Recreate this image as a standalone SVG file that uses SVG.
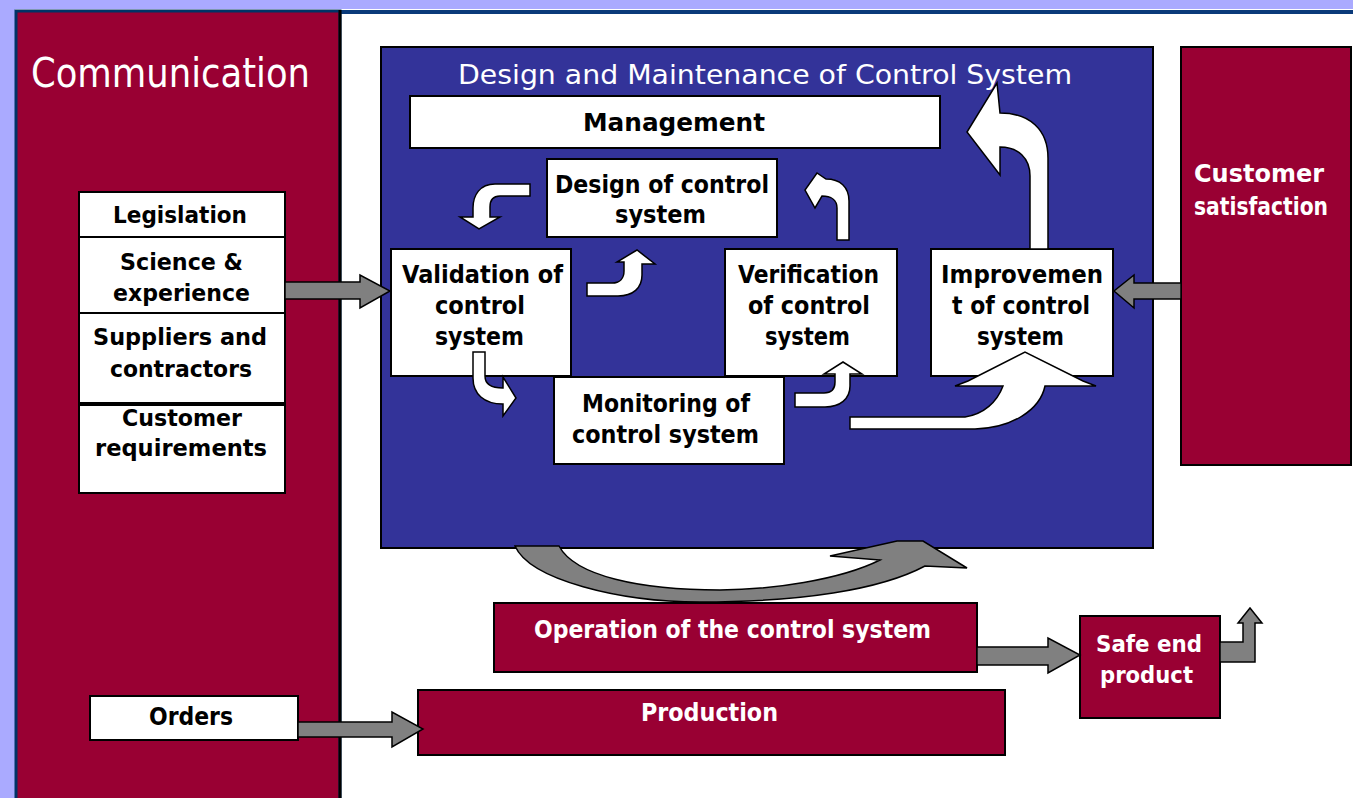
<svg xmlns="http://www.w3.org/2000/svg" width="1353" height="798" viewBox="0 0 1353 798">
<style>
.crim{fill:#990033;stroke:#000;stroke-width:2}
.box{fill:#fff;stroke:#000;stroke-width:2}
.wa{fill:#fff;stroke:#000;stroke-width:1.5;stroke-linejoin:miter}
.ga{fill:#808080;stroke:#000;stroke-width:1.5}
.t{font-family:"DejaVu Sans","Liberation Sans",sans-serif;font-weight:bold;font-size:24px;fill:#000}
.w{fill:#fff}
.n{font-weight:normal}
.s22{font-size:23px}
</style>
<rect x="0" y="0" width="1353" height="798" fill="#fff"/>
<rect x="0" y="0" width="15" height="798" fill="#aaaaff"/>
<rect x="0" y="0" width="1353" height="9" fill="#aaaaff"/>
<rect x="340" y="10" width="1013" height="4" fill="#0a3a7a"/>

<g id="communication">
<rect x="16" y="11" width="324" height="790" fill="#990033" stroke="#003366" stroke-width="3"/>
<line x1="340" y1="10" x2="340" y2="798" stroke="#000" stroke-width="3"/>
<text class="t w n" x="31" y="87" style="font-size:40px" textLength="279" lengthAdjust="spacingAndGlyphs">Communication</text>
</g>

<g id="design-maintenance">
<rect x="381" y="47" width="772" height="501" fill="#333399" stroke="#000" stroke-width="2"/>
<text class="t w n" x="458" y="84" style="font-size:27px" textLength="614" lengthAdjust="spacingAndGlyphs">Design and Maintenance of Control System</text>
</g>

<g id="customer-satisfaction">
<rect x="1181" y="47" width="170" height="418" class="crim"/>
<text class="t w" x="1194" y="182" style="font-size:24px" textLength="130" lengthAdjust="spacingAndGlyphs">Customer</text>
<text class="t w" x="1194" y="215" style="font-size:24px" textLength="134" lengthAdjust="spacingAndGlyphs">satisfaction</text>
</g>

<g id="management">
<rect x="410" y="96" width="530" height="52" class="box"/>
<text class="t" x="583" y="131" textLength="182" lengthAdjust="spacingAndGlyphs">Management</text>
</g>

<g id="design">
<rect x="547" y="159" width="230" height="78" class="box"/>
<text class="t" x="555" y="193" textLength="214" lengthAdjust="spacingAndGlyphs">Design of control</text>
<text class="t" x="615" y="223" textLength="91" lengthAdjust="spacingAndGlyphs">system</text>
</g>

<g id="validation">
<rect x="391" y="249" width="180" height="127" class="box"/>
<text class="t" x="402" y="283" textLength="161" lengthAdjust="spacingAndGlyphs">Validation of</text>
<text class="t" x="435" y="314" textLength="90" lengthAdjust="spacingAndGlyphs">control</text>
<text class="t" x="435" y="345" textLength="89" lengthAdjust="spacingAndGlyphs">system</text>
</g>

<g id="verification">
<rect x="725" y="249" width="172" height="127" class="box"/>
<text class="t" x="738" y="283" textLength="141" lengthAdjust="spacingAndGlyphs">Verification</text>
<text class="t" x="748" y="314" textLength="122" lengthAdjust="spacingAndGlyphs">of control</text>
<text class="t" x="765" y="345" textLength="85" lengthAdjust="spacingAndGlyphs">system</text>
</g>

<g id="improvement">
<rect x="931" y="249" width="182" height="127" class="box"/>
<text class="t" x="941" y="283" textLength="162" lengthAdjust="spacingAndGlyphs">Improvemen</text>
<text class="t" x="952" y="314" textLength="138" lengthAdjust="spacingAndGlyphs">t of control</text>
<text class="t" x="977" y="345" textLength="87" lengthAdjust="spacingAndGlyphs">system</text>
</g>

<g id="monitoring">
<rect x="554" y="377" width="230" height="87" class="box"/>
<text class="t" x="582" y="412" textLength="168" lengthAdjust="spacingAndGlyphs">Monitoring of</text>
<text class="t" x="572" y="443" textLength="187" lengthAdjust="spacingAndGlyphs">control system</text>
</g>

<g id="inputs">
<rect x="79" y="192" width="206" height="301" class="box"/>
<line x1="79" y1="237" x2="285" y2="237" stroke="#000" stroke-width="2"/>
<line x1="79" y1="313" x2="285" y2="313" stroke="#000" stroke-width="2"/>
<line x1="79" y1="404" x2="285" y2="404" stroke="#000" stroke-width="4"/>
<text class="t s22" x="113" y="223" textLength="134" lengthAdjust="spacingAndGlyphs">Legislation</text>
<text class="t s22" x="120" y="270" textLength="123" lengthAdjust="spacingAndGlyphs">Science &amp;</text>
<text class="t s22" x="113" y="301" textLength="137" lengthAdjust="spacingAndGlyphs">experience</text>
<text class="t s22" x="93" y="345" textLength="174" lengthAdjust="spacingAndGlyphs">Suppliers and</text>
<text class="t s22" x="110" y="377" textLength="142" lengthAdjust="spacingAndGlyphs">contractors</text>
<text class="t s22" x="122" y="426" textLength="120" lengthAdjust="spacingAndGlyphs">Customer</text>
<text class="t s22" x="95" y="456" textLength="172" lengthAdjust="spacingAndGlyphs">requirements</text>
</g>

<g id="orders">
<rect x="90" y="696" width="208" height="44" class="box"/>
<text class="t" x="149" y="725" textLength="84" lengthAdjust="spacingAndGlyphs">Orders</text>
</g>

<g id="operation">
<rect x="494" y="603" width="483" height="69" class="crim"/>
<text class="t w" x="534" y="638" textLength="397" lengthAdjust="spacingAndGlyphs">Operation of the control system</text>
</g>

<g id="production">
<rect x="418" y="690" width="587" height="65" class="crim"/>
<text class="t w" x="641" y="721" textLength="137" lengthAdjust="spacingAndGlyphs">Production</text>
</g>

<g id="safe-end-product">
<rect x="1080" y="616" width="140" height="102" class="crim"/>
<text class="t w" x="1096" y="652" style="font-size:23px" textLength="106" lengthAdjust="spacingAndGlyphs">Safe end</text>
<text class="t w" x="1100" y="683" style="font-size:23px" textLength="93" lengthAdjust="spacingAndGlyphs">product</text>
</g>

<g id="connectors">
<path class="ga" d="M285 282 L360 282 L360 275 L390 291 L360 308 L360 299 L285 299 Z"/>
<path class="ga" d="M1181 283 L1134 283 L1134 275 L1114 291 L1134 308 L1134 299 L1181 299 Z"/>
<path class="ga" d="M298 722 L392 722 L392 712 L423 729 L392 747 L392 737 L298 737 Z"/>
<path class="ga" d="M977 647 L1048 647 L1048 638 L1080 655 L1048 673 L1048 665 L977 665 Z"/>
<path class="ga" d="M1220 642 L1243 642 L1243 623 L1238 623 L1250 608 L1262 623 L1255 623 L1255 662 L1220 662 Z"/>
<path class="ga" d="M515 546 C530 580 620 602 700 602 C800 602 880 590 925 566 L967 568 L923 541 L897 541 L830 556 L880 560 C840 580 770 590 720 590 C640 590 575 576 559 546 Z"/>
<path class="wa" d="M530 184 L495 184 C480 184 473 195 473 208 L473 217 L460 217 L479 229 L500 217 L490 217 L490 207 C490 200 493 196 500 196 L530 196 Z"/>
<path class="wa" d="M587 283 L612 283 C620 283 624 278 624 271 L624 262 L617 262 L637 250 L655 264 L642 264 L642 275 C642 288 633 296 618 296 L587 296 Z"/>
<path class="wa" d="M473 352 L485 352 L485 376 C485 384 491 388 503 388 L503 377 L516 398 L503 416 L503 404 C484 404 473 394 473 378 Z"/>
<path class="wa" d="M795 393 L824 393 C831 393 835 389 835 382 L835 374 L824 374 L843 362 L862 374 L850 374 L850 386 C850 399 840 407 825 407 L795 407 Z"/>
<path class="wa" d="M837 240 L849 240 L849 201 C849 187 840 179 826 179 L817 173 L805 190 L815 208 L822 196 C831 196 837 200 837 208 Z"/>
<path class="wa" d="M1030 249 L1048 249 L1048 158 C1048 130 1030 113 1000 113 L997 83 L967 132 L1000 175 L1000 147 C1018 147 1030 158 1030 176 Z"/>
<path class="wa" d="M850 417 L965 417 C984 414 997 402 1003 386 L955 386 L968 381 L1025 352 L1083 381 L1096 386 L1045 386 C1040 410 1012 428 975 429 L850 429 Z"/>
</g>
</svg>
